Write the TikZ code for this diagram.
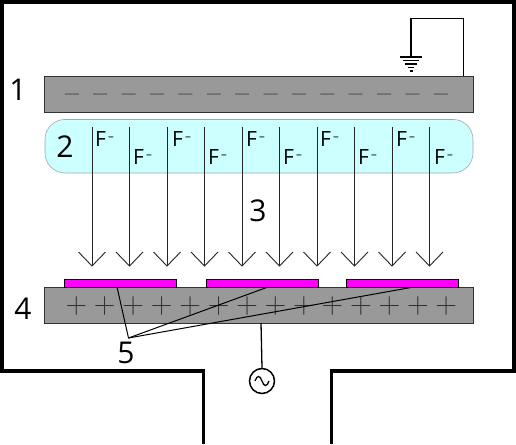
\documentclass[tikz,border=0pt]{standalone}
\usepackage{fontspec}
\setmainfont{Open Sans}
\newfontfamily\symfont{Latin Modern Roman}
\definecolor{plate}{gray}{0.6}
\definecolor{plasma}{HTML}{CCFFFF}
\definecolor{maskc}{HTML}{FF00FF}
\tikzset{
  wall/.style={line width=3.6pt,black},
  plate/.style={draw=black!80,fill=plate,line width=0.9pt},
  mask/.style={draw=black,fill=maskc,line width=1pt},
  wire/.style={draw=black,line width=1.3pt},
  leader/.style={draw=black,line width=1pt},
  ion/.style={draw=black!85,line width=0.9pt},
  num/.style={inner sep=0pt,font=\fontsize{30}{30}\selectfont},
  fion/.style={inner sep=0pt,anchor=west,font=\fontsize{21}{21}\selectfont},
  pm/.style={inner sep=0pt,font=\symfont\fontsize{30}{30}\selectfont,text=black!80},
}
\begin{document}
\begin{tikzpicture}[x=1pt,y=-1pt]
\useasboundingbox (0,0) rectangle (516,444);
\fill[white] (0,0) rectangle (516,444);
% chamber wall
\draw[wall] (203.5,444) -- (203.5,371) -- (1.8,371) -- (1.8,1.8) -- (514.2,1.8) -- (514.2,371) -- (331.5,371) -- (331.5,444);
% top plate
\node[plate,minimum width=429pt,minimum height=36pt,inner sep=0pt] (top) at (259.2,94) {};
\foreach \i in {0,...,13}
  \node[pm,text=black] (neg\i) at ({72+28.38*\i},98.5) {–};
% ground
\coordinate (gnd) at (411,57);
\coordinate (gc) at (411,18.5);
\coordinate (gr) at (463.5,18.5);
\coordinate (topc) at (463.5,76);
\draw[wire] (gnd) -- (gc) -- (gr) -- (topc);
\draw[line width=1.4pt] (400,57) -- (422,57);
\draw[line width=1.4pt] (403,60.5) -- (419,60.5);
\draw[line width=1.4pt] (405,64) -- (417,64);
\draw[line width=1.4pt] (408,67.5) -- (414,67.5);
\draw[line width=1.4pt] (409.5,71) -- (412.5,71);
% plasma
\node[draw=black!35,fill=plasma,line width=0.6pt,rounded corners=20pt,minimum width=428pt,minimum height=53.5pt,inner sep=0pt] (plasma) at (259,146.2) {};
% labels
\node[num] (n1) at (18,90) {1};
\node[num] (n2) at (65,147) {2};
\node[num] (n3) at (258,211) {3};
\node[num] (n4) at (23,309) {4};
\node[num] (n5) at (126,353) {5};
% arrows
\foreach \x [count=\i] in {92,129.5,167,204.5,242,279.5,317,354.5,392,429.5} {
  \coordinate (as\i) at (\x,127);
  \coordinate (at\i) at (\x,266);
  \coordinate (al\i) at (\x-13.5,252);
  \coordinate (ar\i) at (\x+13.5,252);
  \draw[ion] (as\i) -- (at\i);
  \draw[ion] (al\i) -- (at\i) -- (ar\i);
}
% fluorine labels
\foreach \x/\y [count=\i] in {95/139,133/157,172/139,208/157,246/139,283/157,320/139,358/157,396/139,434/157}
  \node[fion] (f\i) at (\x,\y) {F\hspace{2pt}\raisebox{6pt}{\fontsize{11.5}{11.5}\selectfont –}};
% bottom plate
\node[plate,minimum width=429pt,minimum height=36pt,inner sep=0pt] (bot) at (259.2,305) {};
\foreach \i in {0,...,13}
  \node[pm] (pos\i) at ({76.3+28.46*\i},306) {+};
% masks
\node[mask,minimum width=112pt,minimum height=7.5pt,inner sep=0pt] (m1) at (120.5,283.5) {};
\node[mask,minimum width=112pt,minimum height=7.5pt,inner sep=0pt] (m2) at (262.3,283.5) {};
\node[mask,minimum width=112pt,minimum height=7.5pt,inner sep=0pt] (m3) at (402.5,283.5) {};
% leaders
\coordinate (apex) at (128.5,338);
\coordinate (l1) at (117,287);
\coordinate (l2) at (268,287);
\coordinate (l3) at (411,287.5);
\draw[leader] (l1) -- (apex) -- (l2);
\draw[leader] (apex) -- (l3);
% AC source
\node[draw=black,circle,line width=1.5pt,minimum size=25pt,inner sep=0pt] (ac) at (262,381) {};
\draw[wire] (261,323) -- (ac.north);
\draw[line width=1.3pt] (255,381) .. controls (257,375) and (260,375) .. (262,381) .. controls (264,387) and (267,387) .. (269,381);
\end{tikzpicture}
\end{document}
